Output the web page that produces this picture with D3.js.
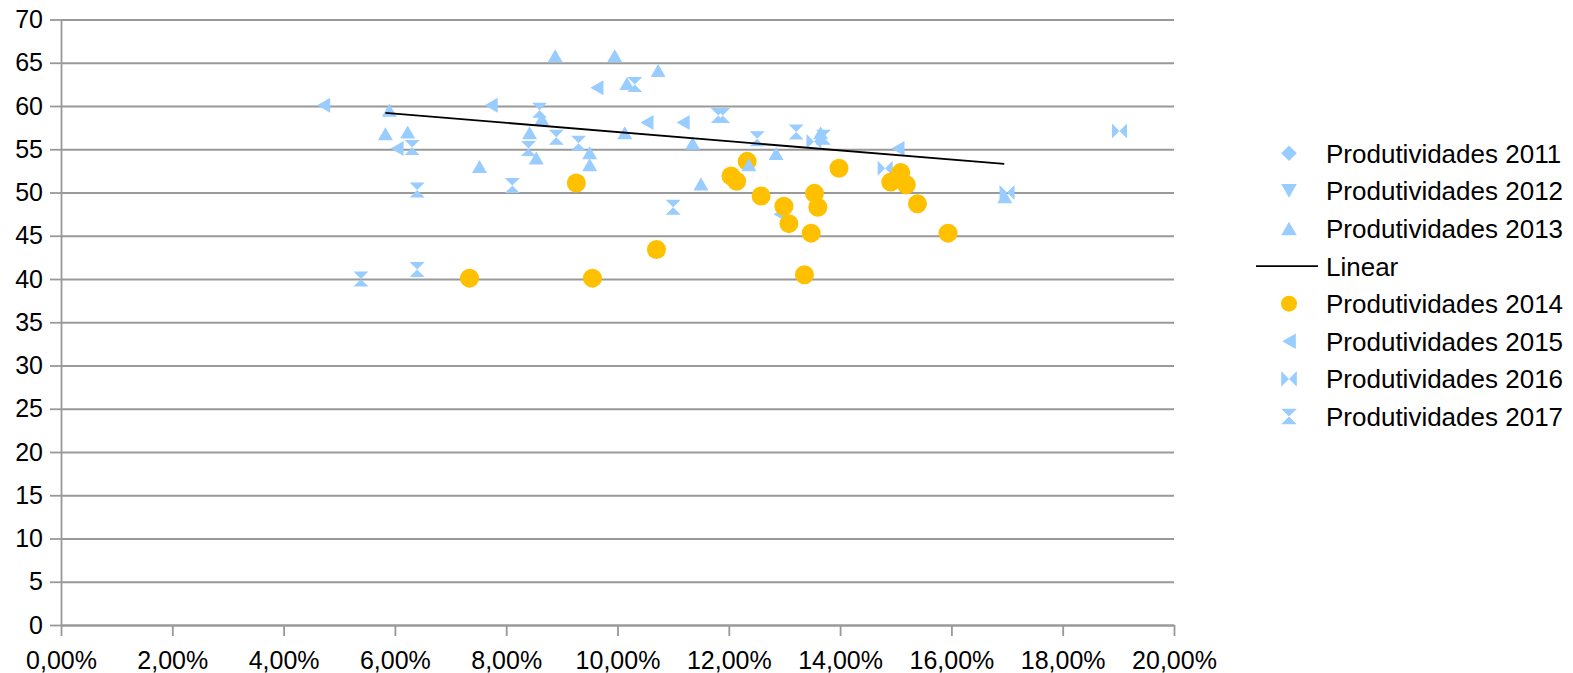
<!DOCTYPE html>
<html>
<head>
<meta charset="utf-8">
<script src="https://cdn.jsdelivr.net/npm/d3@7"></script>
<style>
  body { margin: 0; background: #fff; }
  text { font-family: "Liberation Sans", Arial, sans-serif; fill: #000; }
</style>
</head>
<body>
<script>
// data (x in %, y = produtividade)
var p2011X = [];
var p2011Y = [];
var p2012X = [];
var p2012Y = [];
var p2013X = [5.90, 5.83, 6.23, 7.52, 8.42, 8.54, 8.64, 8.88, 9.95, 10.73, 10.17, 9.50, 9.50, 10.13, 11.35, 11.50, 12.36, 12.85, 13.65, 16.96];
var p2013Y = [59.5, 56.8, 57.0, 53.0, 56.9, 54.0, 58.5, 65.8, 65.8, 64.1, 62.6, 54.6, 53.2, 56.9, 55.7, 51.0, 53.2, 54.5, 56.9, 49.5];
var p2014X = [7.34, 9.26, 9.55, 10.70, 12.04, 12.14, 12.33, 12.58, 12.99, 13.08, 13.36, 13.48, 13.54, 13.60, 13.98, 14.91, 15.09, 15.19, 15.39, 15.94];
var p2014Y = [40.1, 51.1, 40.1, 43.4, 51.9, 51.3, 53.6, 49.6, 48.4, 46.4, 40.5, 45.3, 49.9, 48.3, 52.8, 51.2, 52.3, 50.9, 48.7, 45.3];
var p2015X = [4.72, 6.04, 7.73, 9.63, 10.53, 11.18, 12.92, 15.04];
var p2015Y = [60.1, 55.1, 60.1, 62.1, 58.1, 58.1, 47.5, 55.1];
var p2016X = [13.53, 14.81, 17.00, 19.02];
var p2016Y = [55.9, 52.8, 50.0, 57.1];
var p2017X = [5.39, 6.40, 6.40, 6.31, 8.11, 8.40, 8.60, 8.90, 9.30, 10.31, 11.81, 11.89, 11.00, 12.51, 13.21, 13.70];
var p2017Y = [40.0, 41.1, 50.3, 55.2, 50.8, 55.1, 59.5, 56.4, 55.7, 62.5, 58.9, 58.9, 48.3, 56.2, 57.0, 56.4];
// trend line ("Linear") end points
var trendX = [5.83, 16.95];
var trendY = [59.2, 53.3];

var xTicks = [0, 2, 4, 6, 8, 10, 12, 14, 16, 18, 20];
var yTicks = [0, 5, 10, 15, 20, 25, 30, 35, 40, 45, 50, 55, 60, 65, 70];
var legendNames = ["Produtividades 2011", "Produtividades 2012", "Produtividades 2013", "Linear",
                   "Produtividades 2014", "Produtividades 2015", "Produtividades 2016", "Produtividades 2017"];

// svg setup
var svgWidth = 1573;
var svgHeight = 673;
var margin = { top: 19.5, left: 61 };
var width = 1113;
var height = 605.5;

var blue = "#99ccff";
var gold = "#ffc000";
var gridColor = "#999999";

var svg = d3.select("body").append("svg")
  .attr("width", svgWidth)
  .attr("height", svgHeight);

var chartGroup = svg.append("g")
  .attr("transform", `translate(${margin.left}, ${margin.top})`);

var xScale = d3.scaleLinear().domain([0, 20]).range([0, width]);
var yScale = d3.scaleLinear().domain([0, 70]).range([height, 0]);

var ptLocale = d3.formatLocale({ decimal: ",", thousands: ".", grouping: [3], currency: ["", ""] });
var fmt2 = ptLocale.format(".2f");

// gridlines
chartGroup.append("g")
  .call(d3.axisLeft(yScale).tickValues(yTicks).tickSize(-width).tickFormat(""))
  .call(g => g.select(".domain").remove())
  .call(g => g.selectAll("line").attr("stroke", gridColor).attr("stroke-width", 1.8));

// y axis
var yAxis = chartGroup.append("g")
  .call(d3.axisLeft(yScale).tickValues(yTicks).tickSize(11).tickSizeOuter(0).tickPadding(7));

// x axis
var xAxis = chartGroup.append("g")
  .attr("transform", `translate(0, ${height})`)
  .call(d3.axisBottom(xScale).tickValues(xTicks).tickSize(11).tickSizeOuter(0).tickPadding(15)
    .tickFormat(function(d) { return fmt2(d) + "%"; }));

[yAxis, xAxis].forEach(function(ax) {
  ax.select(".domain").attr("stroke", gridColor).attr("stroke-width", 1.8);
  ax.selectAll(".tick line").attr("stroke", gridColor).attr("stroke-width", 1.8);
  ax.selectAll("text").style("font-size", "25px").attr("fill", "#000")
    .style("font-family", '"Liberation Sans", Arial, sans-serif');
});

// marker shapes (half size s)
function shape(kind, s) {
  var h = s * 0.87;
  switch (kind) {
    case "diamond": return `M0,${-s}L${s},0L0,${s}L${-s},0Z`;
    case "down": return `M${-s},${-h}L${s},${-h}L0,${h}Z`;
    case "up": return `M0,${-h}L${s},${h}L${-s},${h}Z`;
    case "left": return `M${-h},0L${h},${-s}L${h},${s}Z`;
    case "bowtie": return `M${-s},${-s}L0,0L${-s},${s}ZM${s},${-s}L0,0L${s},${s}Z`;
    case "hourglass": return `M${-s},${-s}L${s},${-s}L0,0ZM${-s},${s}L${s},${s}L0,0Z`;
  }
}

var series = [
  { xs: p2011X, ys: p2011Y, kind: "diamond", color: blue },
  { xs: p2012X, ys: p2012Y, kind: "down", color: blue },
  { xs: p2013X, ys: p2013Y, kind: "up", color: blue },
  { xs: p2014X, ys: p2014Y, kind: "circle", color: gold },
  { xs: p2015X, ys: p2015Y, kind: "left", color: blue },
  { xs: p2016X, ys: p2016Y, kind: "bowtie", color: blue },
  { xs: p2017X, ys: p2017Y, kind: "hourglass", color: blue }
];

// later series sit underneath earlier ones in the picture, so draw in reverse
series.slice().reverse().forEach(function(s) {
  var pts = s.xs.map(function(x, i) { return { x: x, y: s.ys[i] }; });
  var g = chartGroup.append("g");
  if (s.kind === "circle") {
    g.selectAll("circle").data(pts).enter().append("circle")
      .attr("cx", function(d) { return xScale(d.x); })
      .attr("cy", function(d) { return yScale(d.y); })
      .attr("r", 9.5)
      .attr("fill", s.color);
  } else {
    g.selectAll("path").data(pts).enter().append("path")
      .attr("d", shape(s.kind, 7.5))
      .attr("transform", function(d) { return `translate(${xScale(d.x)},${yScale(d.y)})`; })
      .attr("fill", s.color);
  }
});

// trend line
chartGroup.append("path")
  .datum(trendX.map(function(x, i) { return [x, trendY[i]]; }))
  .attr("fill", "none")
  .attr("stroke", "#000")
  .attr("stroke-width", 1.8)
  .attr("d", d3.line().x(function(d) { return xScale(d[0]); }).y(function(d) { return yScale(d[1]); }));

// legend
var legendKinds = ["diamond", "down", "up", "line", "circle", "left", "bowtie", "hourglass"];
var legend = svg.append("g").attr("transform", "translate(1289, 153.3)");
legendNames.forEach(function(name, i) {
  var row = legend.append("g").attr("transform", `translate(0, ${i * 37.6})`);
  var kind = legendKinds[i];
  if (kind === "line") {
    row.append("line").attr("x1", -33).attr("x2", 29).attr("y1", 0).attr("y2", 0)
      .attr("stroke", "#000").attr("stroke-width", 1.8);
  } else if (kind === "circle") {
    row.append("circle").attr("r", 8).attr("fill", gold);
  } else {
    row.append("path").attr("d", shape(kind, 7.8)).attr("fill", blue);
  }
  row.append("text")
    .attr("x", 37)
    .attr("y", 9.5)
    .style("font-size", "26px")
    .text(name);
});
</script>
</body>
</html>
